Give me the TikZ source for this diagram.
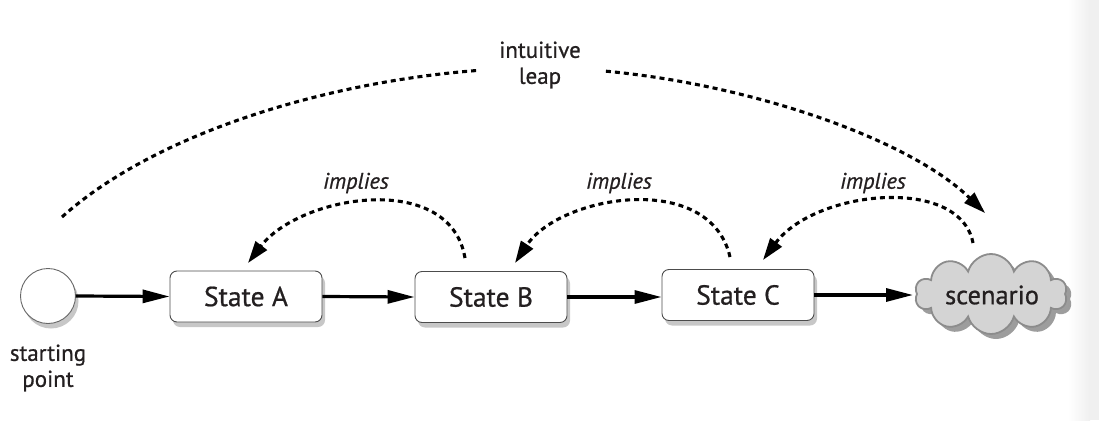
\documentclass[tikz,border=0pt]{standalone}
\usepackage{fontspec}
\setmainfont{PT Sans}[FakeBold=0.7]
\usetikzlibrary{arrows.meta,shapes.symbols,shadows}
\definecolor{txt}{HTML}{231F20}
\tikzset{
  stbox/.style={draw=black!70, line width=0.9pt, fill=white, rounded corners=7pt,
    minimum width=152pt, minimum height=51pt, inner sep=0pt,
    font=\fontsize{27.5}{32}\selectfont, text=txt,
    drop shadow={shadow xshift=3pt, shadow yshift=-5pt, opacity=0.22, fill=black}},
  solidarr/.style={line width=3.2pt, -{Triangle[length=27pt,width=13pt]}},
  dotarr/.style={line width=3.1pt, dash pattern=on 5pt off 4pt, -{Triangle[length=22pt,width=14pt]}},
  lbl/.style={font=\fontsize{23}{26}\selectfont, text=txt, align=center, inner sep=0pt},
  implbl/.style={font=\itshape\fontsize{22.5}{25}\selectfont, text=txt, inner sep=0pt}
}
\begin{document}
\begin{tikzpicture}[x=1pt,y=-1pt]
\useasboundingbox (0,0) rectangle (1099,420);
% page edge
\shade[left color=white, right color=black!6] (1068,0) rectangle (1090,420);
\fill[black!6] (1090,0) rectangle (1099,420);

\node[circle, draw=black!60, line width=0.9pt, fill=white, minimum size=55pt, inner sep=0pt,
  drop shadow={shadow xshift=3pt, shadow yshift=-5pt, opacity=0.22, fill=black}] (S) at (48,296) {};
\node[lbl] (Slbl) at (48,368) {starting\\point};

\node[stbox] (A) at (246,296.5) {State A};
\node[stbox] (B) at (491,297) {State B};
\node[stbox] (C) at (738,295) {State C};

\node[cloud, cloud puffs=10, aspect=2.1, minimum width=152pt, minimum height=80pt, inner sep=0pt,
  draw=black!45, line width=1.8pt, fill=black!17,
  drop shadow={shadow xshift=5pt, shadow yshift=-5pt, opacity=0.55, fill=black!70}] (D) at (991,294) {};
\node[font=\fontsize{26.5}{30}\selectfont, text=txt, inner sep=0pt] (Dlbl) at (992,295) {scenario};

\draw[solidarr] (S.east) -- (A.west);
\draw[solidarr] (A.east) -- (B.west);
\draw[solidarr] (B.east) -- (C.west |- B.east);
\draw[solidarr] (C.east) -- (913,295) coordinate (Din);

% implies arcs
\coordinate (a0) at (465,258); \coordinate (a1) at (248,263);
\coordinate (b0) at (730,257); \coordinate (b1) at (515,263);
\coordinate (c0) at (973,243); \coordinate (c1) at (763,260);
\draw[dotarr] (a0) .. controls (450,170) and (300,195) .. (a1);
\draw[dotarr] (b0) .. controls (710,170) and (560,195) .. (b1);
\draw[dotarr] (c0) .. controls (960,175) and (815,190) .. (c1);
\node[implbl] (i1) at (356,183) {implies};
\node[implbl] (i2) at (619,183) {implies};
\node[implbl] (i3) at (873,183) {implies};

% intuitive leap
\coordinate (L0) at (62,217);
\coordinate (Ltop) at (540,68);
\coordinate (L1) at (985,213);
\draw[dotarr] (L0) .. controls (170,120) and (380,68) .. (Ltop)
   .. controls (700,68) and (900,130) .. (L1);
\node[lbl, fill=white, inner xsep=22pt, inner ysep=2pt] (leap) at (540,65) {intuitive\\leap};
\end{tikzpicture}
\end{document}
